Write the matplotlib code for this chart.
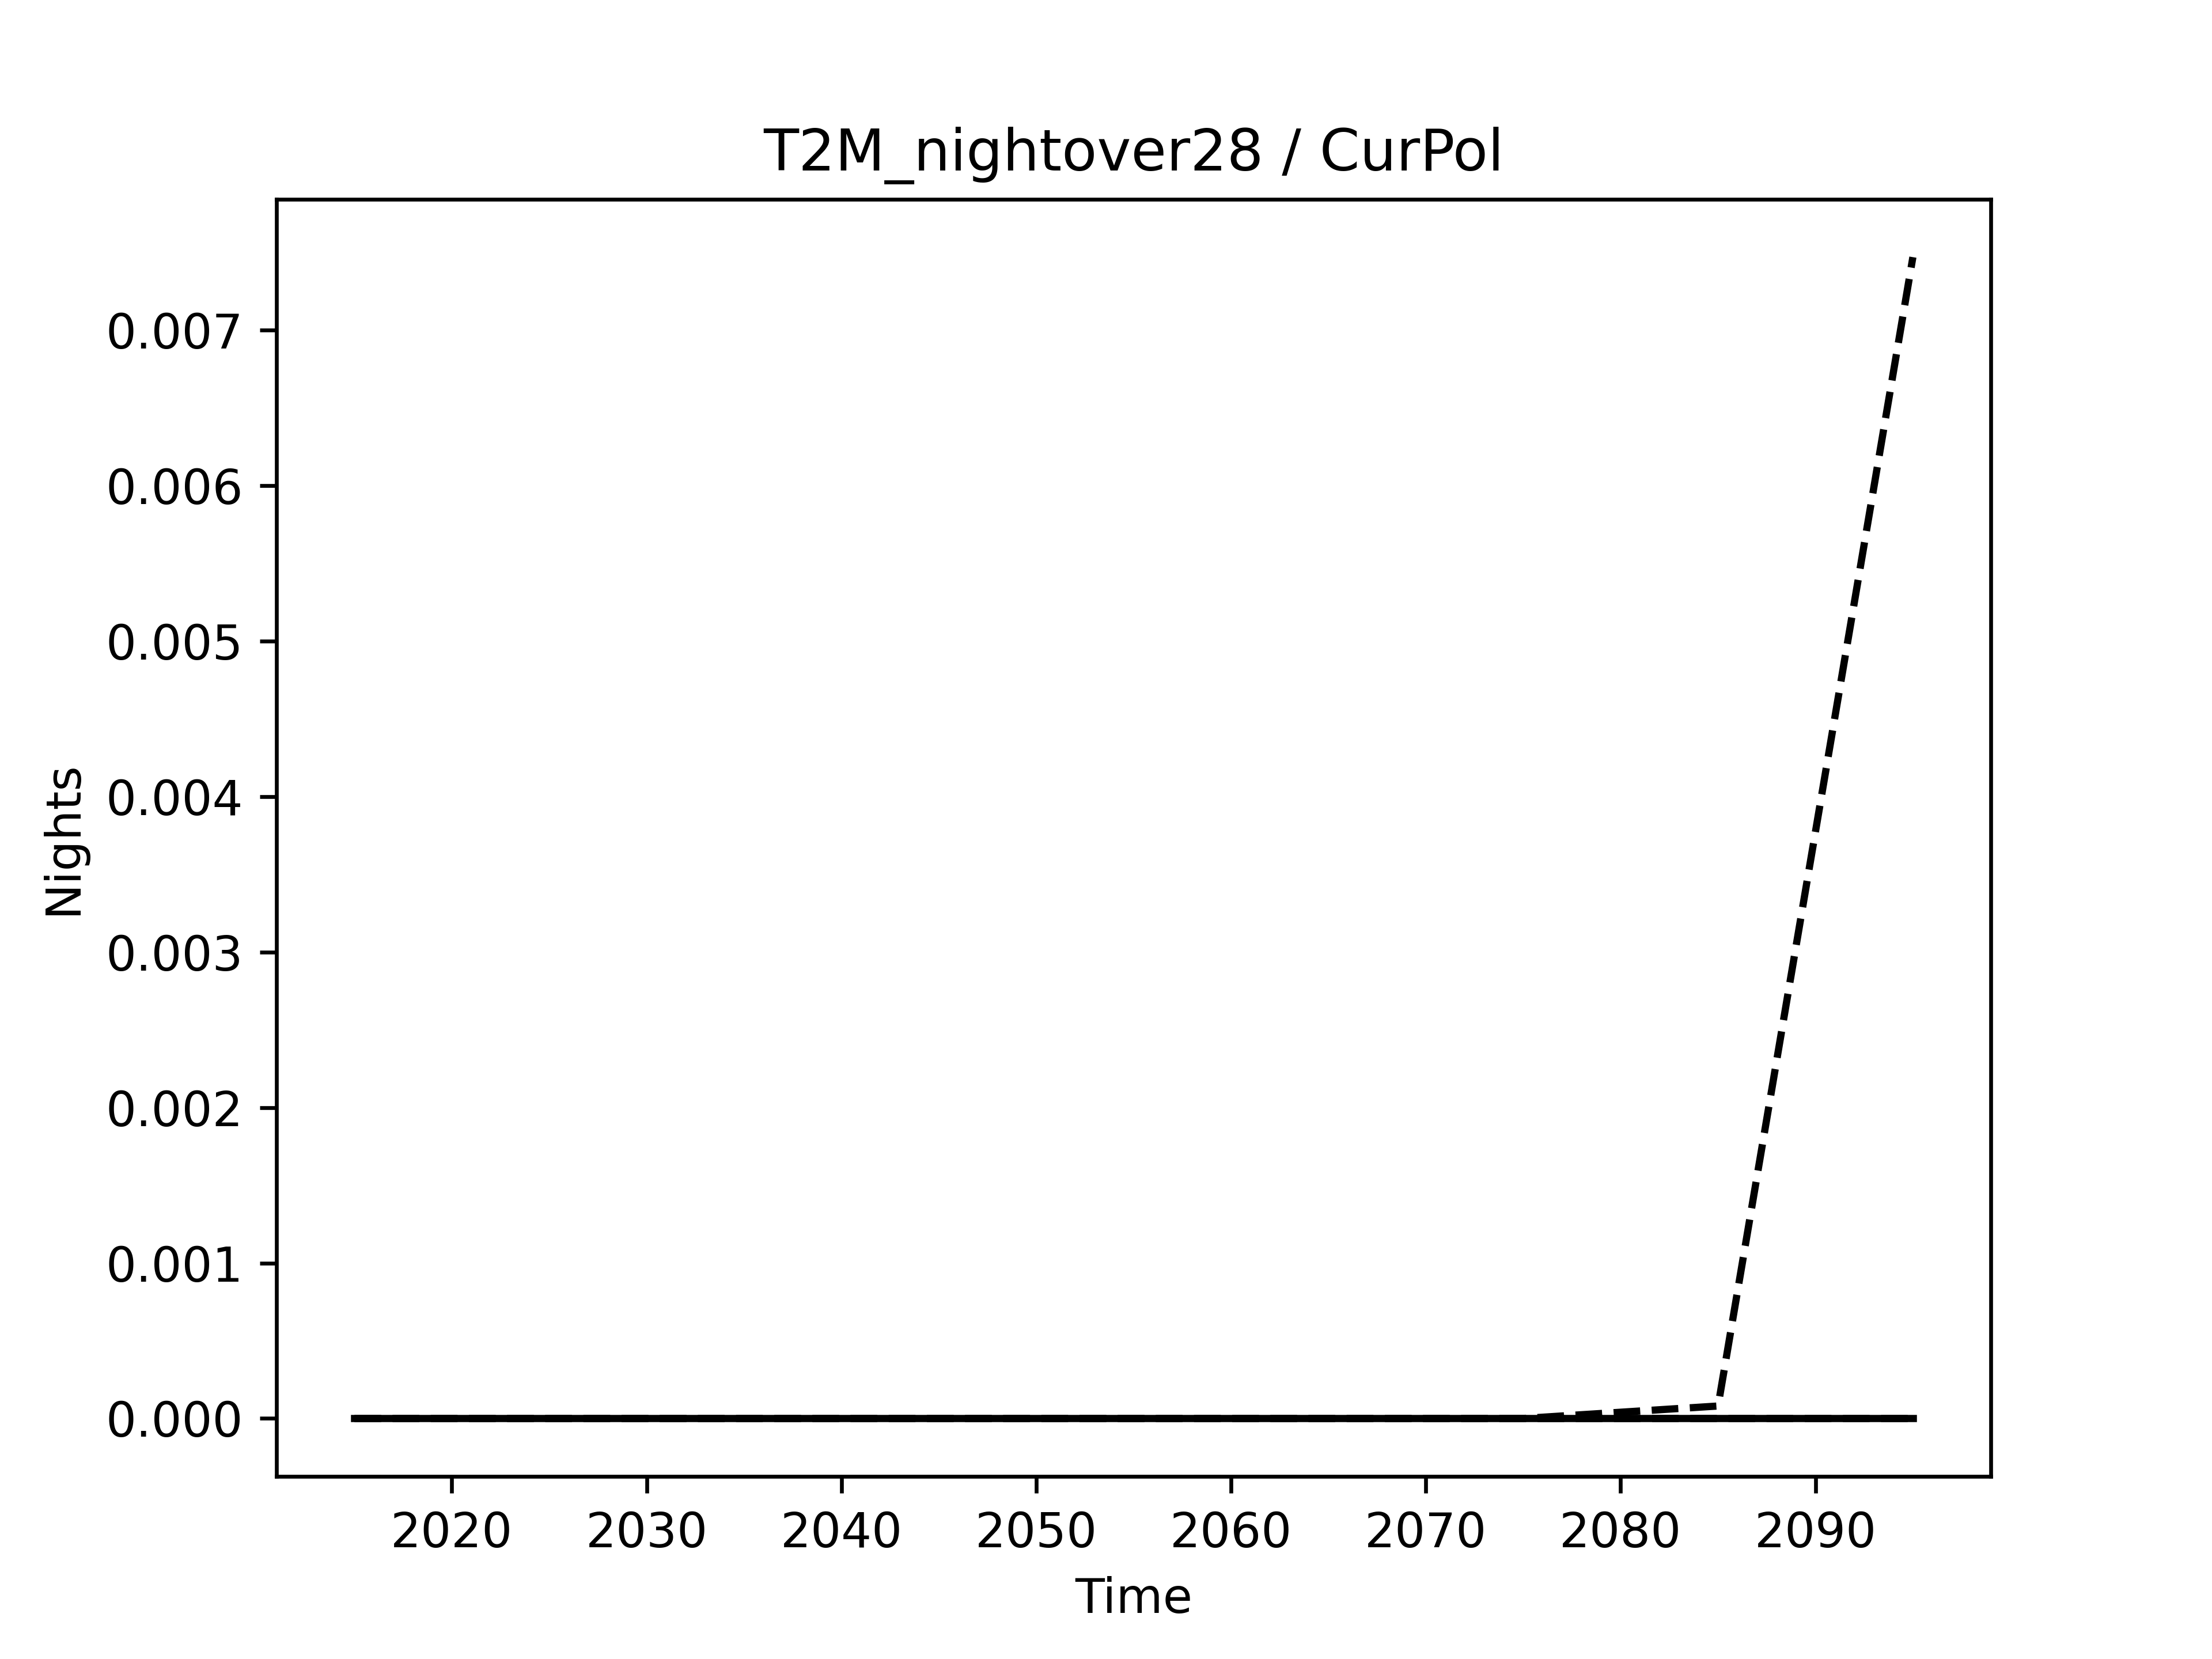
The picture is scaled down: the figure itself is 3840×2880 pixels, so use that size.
import matplotlib
matplotlib.use("Agg")
import matplotlib.pyplot as plt

years = [2015, 2025, 2035, 2045, 2055, 2065, 2075, 2085, 2095]
median = [0, 0, 0, 0, 0, 0, 0, 0, 0]
lower = [0, 0, 0, 0, 0, 0, 0, 0, 0]
upper = [0, 0, 0, 0, 0, 0, 0, 0.00008, 0.00747]

fig, ax = plt.subplots(figsize=(6.4, 4.8), dpi=600)
ax.plot(years, median, color="black", linestyle="-")
ax.plot(years, lower, color="black", linestyle="--")
ax.plot(years, upper, color="black", linestyle="--")
ax.set_title("T2M_nightover28 / CurPol")
ax.set_xlabel("Time")
ax.set_ylabel("Nights")
fig.savefig("out.png", dpi=600)
